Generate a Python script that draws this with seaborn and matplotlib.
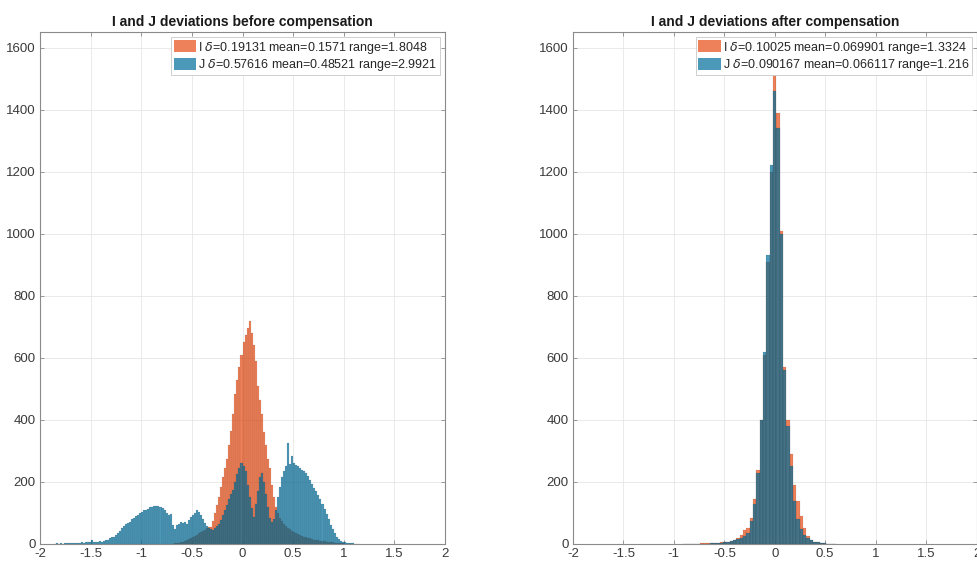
import numpy as np
import pandas as pd
import matplotlib
matplotlib.use("Agg")
import matplotlib.pyplot as plt
from matplotlib.colors import to_rgb
from matplotlib.patches import Patch
import seaborn as sns

# kolory (widoczne jak w matlabie po alpha)
ORANGE = "#E74C13"
BLUE = "#006D9A"
ALPHA = 0.7
EDGE = (0, 0, 0, 0.16)

# lewy wykres - przed kompensacja, szerokosc binu 0.02
before_bw = 0.02
before_j_start = -1.86
before_j_counts = [
    1, 2, 1, 2, 1, 2, 2, 3, 2, 3, 2, 4, 3, 5, 4, 6, 5, 7, 13, 6,
    8, 7, 9, 8, 11, 14, 12, 18, 22, 24, 30, 35, 42, 50, 57, 63, 68, 72, 80, 85,
    90, 95, 100, 104, 108, 111, 114, 118, 120, 124, 122, 121, 118, 115, 108, 100, 92, 96, 60, 48,
    62, 66, 70, 68, 72, 66, 78, 86, 94, 100, 110, 104, 92, 80, 68, 58, 52, 48, 46, 52,
    58, 66, 78, 92, 108, 125, 145, 160, 175, 200, 225, 245, 260, 252, 235, 190, 150, 115, 88, 130,
    170, 215, 228, 200, 160, 120, 85, 72, 80, 110, 150, 185, 215, 235, 250, 326, 258, 283, 262, 255,
    250, 246, 240, 234, 228, 218, 205, 192, 180, 170, 158, 145, 130, 112, 98, 80, 62, 48, 35, 24,
    17, 11, 8, 6, 4, 3, 2, 2, 1, 1, 1,
]
before_i_start = -0.70
before_i_counts = [
    1, 2, 3, 4, 6, 8, 10, 12, 15, 18, 22, 26, 30, 34, 38, 42, 46, 50, 55, 55,
    75, 100, 125, 150, 185, 215, 245, 275, 320, 365, 420, 485, 530, 570, 610, 650, 675, 695, 720, 680,
    640, 590, 510, 465, 420, 360, 320, 275, 245, 190, 150, 120, 100, 85, 75, 66, 58, 52, 47, 42,
    38, 35, 32, 29, 26, 24, 22, 20, 18, 16, 14, 13, 12, 11, 10, 9, 8, 7, 6, 5,
    4, 3, 3, 2, 2, 1, 1, 1, 1, 1,
]

# prawy wykres - po kompensacji, szerokosc binu 0.033
after_bw = 0.033
after_start = -27.5 * 0.033
after_i_counts = [
    1, 1, 1, 1, 1, 2, 2, 2, 3,
    3, 4, 5, 6, 8, 11, 14, 20,
    30, 46, 52, 85, 145, 240, 400, 610, 910, 1200,
    1520,
    1390, 1010, 570, 400, 290, 190, 140, 90, 52, 26, 12, 8, 5, 3, 2, 1, 1, 1,
]
after_j_counts = [
    0, 1, 0, 1, 1, 1, 1, 1, 2,
    2, 3, 4, 5, 7, 9, 12, 16,
    20, 25, 35, 75, 130, 230, 400, 620, 930, 1220,
    1460,
    1340, 1000, 560, 380, 250, 140, 80, 48, 30, 18, 12, 8, 5, 3, 2, 1, 1, 0,
]

titles = ["I and J deviations before compensation", "I and J deviations after compensation"]
labels_before = [r"I $\delta$=0.19131 mean=0.1571 range=1.8048",
                 r"J $\delta$=0.57616 mean=0.48521 range=2.9921"]
labels_after = [r"I $\delta$=0.10025 mean=0.069901 range=1.3324",
                r"J $\delta$=0.090167 mean=0.066117 range=1.216"]
x_ticks = [-2, -1.5, -1, -0.5, 0, 0.5, 1, 1.5, 2]
y_ticks = [0, 200, 400, 600, 800, 1000, 1200, 1400, 1600]


def draw_hist(ax, start, bw, counts, color):
    #histogram z gotowych licznosci
    n = len(counts)
    before = len(ax.patches)
    df = pd.DataFrame({"x": start + bw * (np.arange(n) + 0.5), "w": counts})
    sns.histplot(data=df, x="x", weights="w", binwidth=bw, binrange=(start, start + bw * n),
                 ax=ax, color=color, linewidth=0.3, stat="count")
    # przezroczystosc tylko na wypelnieniu, krawedz jasna
    for p in ax.patches[before:]:
        p.set_alpha(None)
        p.set_facecolor((*to_rgb(color), ALPHA))
        p.set_edgecolor(EDGE)


def style_axes(ax, title, labels):
    ax.set_xlim(-2, 2)
    ax.set_ylim(0, 1650)
    ax.set_xticks(x_ticks)
    ax.set_xticklabels([f"{v:g}" for v in x_ticks])
    ax.set_yticks(y_ticks)
    ax.set_xlabel("")
    ax.set_ylabel("")
    ax.grid(True, color="#e6e6e6", linewidth=0.6)
    ax.set_axisbelow(True)
    for s in ax.spines.values():
        s.set_visible(True)
        s.set_color("#8a8a8a")
        s.set_linewidth(0.8)
    ax.tick_params(direction="in", top=True, right=True, length=3, width=0.6,
                   color="#8a8a8a", labelcolor="#3a3a3a", labelsize=9.5, pad=3)
    ax.set_title(title, fontsize=10, fontweight="bold", pad=4, color="#1a1a1a")
    handles = [Patch(facecolor=(*to_rgb(ORANGE), ALPHA), edgecolor="none"),
               Patch(facecolor=(*to_rgb(BLUE), ALPHA), edgecolor="none")]
    leg = ax.legend(handles, labels, loc="upper right", fontsize=9, fancybox=False,
                    framealpha=1, edgecolor="#c8c8c8", borderpad=0.2, labelspacing=0.1,
                    handlelength=1.8, handleheight=1.1, handletextpad=0.15, borderaxespad=0.4)
    leg.get_frame().set_linewidth(0.6)


sns.set_style("ticks")
plt.rcParams["font.family"] = ["Liberation Sans", "DejaVu Sans"]

fig = plt.figure(figsize=(9.77, 5.63), dpi=100, facecolor="white")
ax1 = fig.add_axes([40 / 977, 19 / 563, 405 / 977, 512 / 563])
ax2 = fig.add_axes([573 / 977, 19 / 563, 403.5 / 977, 512 / 563])

draw_hist(ax1, before_i_start, before_bw, before_i_counts, ORANGE)
draw_hist(ax1, before_j_start, before_bw, before_j_counts, BLUE)
style_axes(ax1, titles[0], labels_before)

draw_hist(ax2, after_start, after_bw, after_i_counts, ORANGE)
draw_hist(ax2, after_start, after_bw, after_j_counts, BLUE)
style_axes(ax2, titles[1], labels_after)

fig.savefig("out.png", dpi=100)
